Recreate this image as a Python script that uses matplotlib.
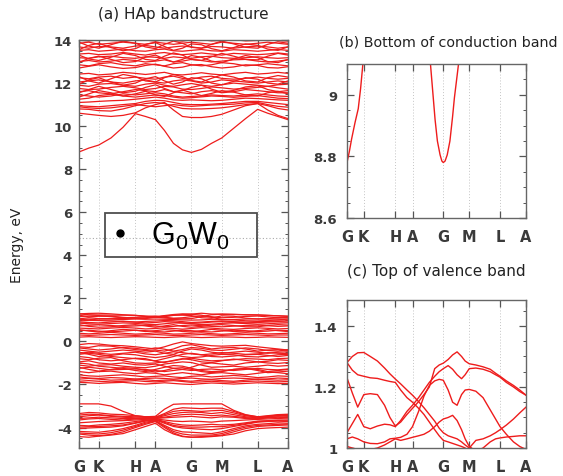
import matplotlib
matplotlib.use('Agg')
import matplotlib.pyplot as plt
from matplotlib.ticker import MultipleLocator, FuncFormatter
from matplotlib.lines import Line2D

plt.rcParams['font.family'] = ['DejaVu Sans']
plt.rcParams['mathtext.fontset'] = 'custom'
plt.rcParams['mathtext.rm'] = 'Liberation Sans'
plt.rcParams['mathtext.it'] = 'Liberation Sans'

# high-symmetry points along the path (fraction of path length)
sym_k = [0.0, 0.094, 0.270, 0.366, 0.538, 0.683, 0.855, 1.0]
sym_labels = ['G', 'K', 'H', 'A', 'G', 'M', 'L', 'A']

# k samples for panel (a)
k_main = [0.0, 0.047, 0.094, 0.153, 0.211, 0.270, 0.318, 0.366, 0.409, 0.452, 0.495,
          0.538, 0.586, 0.634, 0.683, 0.740, 0.797, 0.855, 0.903, 0.952, 1.0]

# conduction bands (eV)
cond_bands = [
    [8.80, 8.98, 9.12, 9.45, 9.95, 10.58, 10.45, 10.30, 9.80, 9.20, 8.90, 8.78, 8.92, 9.20, 9.45, 9.90, 10.35, 10.78, 10.60, 10.45, 10.30],
    [10.60, 10.55, 10.50, 10.45, 10.50, 10.62, 10.85, 11.00, 11.10, 10.75, 10.45, 10.40, 10.40, 10.45, 10.55, 10.75, 10.95, 11.05, 10.75, 10.50, 10.35],
    [10.80, 10.78, 10.72, 10.70, 10.80, 10.95, 11.05, 11.10, 11.05, 10.92, 10.82, 10.80, 10.80, 10.82, 10.85, 10.92, 11.00, 11.05, 10.95, 10.82, 10.75],
    [10.90, 10.85, 10.82, 10.85, 10.92, 11.00, 10.95, 10.90, 10.95, 11.00, 10.95, 10.92, 10.95, 10.98, 11.00, 11.02, 11.08, 11.10, 11.00, 10.92, 10.88],
    [10.95, 10.92, 10.90, 10.95, 11.00, 11.05, 11.15, 11.20, 11.18, 11.10, 11.02, 11.00, 11.00, 11.02, 11.05, 11.10, 11.15, 11.15, 11.10, 11.05, 11.00],
    [11.10, 11.12, 11.15, 11.18, 11.20, 11.25, 11.30, 11.35, 11.30, 11.22, 11.20, 11.22, 11.20, 11.18, 11.20, 11.25, 11.30, 11.28, 11.25, 11.22, 11.20],
    [11.25, 11.30, 11.42, 11.48, 11.40, 11.35, 11.40, 11.45, 11.42, 11.35, 11.30, 11.32, 11.36, 11.40, 11.38, 11.34, 11.38, 11.42, 11.36, 11.30, 11.28],
    [11.35, 11.50, 11.65, 11.55, 11.40, 11.50, 11.62, 11.45, 11.38, 11.55, 11.68, 11.55, 11.42, 11.52, 11.65, 11.58, 11.45, 11.40, 11.55, 11.62, 11.50],
    [11.45, 11.40, 11.35, 11.40, 11.50, 11.45, 11.50, 11.55, 11.50, 11.40, 11.35, 11.38, 11.40, 11.45, 11.42, 11.40, 11.45, 11.50, 11.45, 11.40, 11.38],
    [11.55, 11.70, 11.85, 11.70, 11.55, 11.62, 11.80, 11.92, 11.75, 11.60, 11.65, 11.80, 11.90, 11.72, 11.58, 11.66, 11.82, 11.88, 11.70, 11.60, 11.65],
    [11.60, 11.65, 11.55, 11.50, 11.60, 11.70, 11.65, 11.60, 11.70, 11.60, 11.55, 11.50, 11.60, 11.65, 11.55, 11.60, 11.70, 11.65, 11.60, 11.55, 11.55],
    [11.75, 11.70, 11.72, 11.80, 11.85, 11.78, 11.70, 11.75, 11.85, 11.82, 11.72, 11.70, 11.75, 11.82, 11.78, 11.72, 11.75, 11.80, 11.85, 11.78, 11.72],
    [11.90, 11.85, 11.95, 11.98, 11.90, 11.85, 11.95, 12.00, 11.90, 11.85, 11.92, 11.98, 11.90, 11.85, 11.92, 12.00, 11.95, 11.90, 11.85, 11.92, 11.95],
    [11.95, 12.15, 12.25, 12.05, 11.90, 12.00, 12.20, 12.30, 12.10, 11.95, 12.05, 12.25, 12.20, 12.00, 11.92, 12.08, 12.25, 12.18, 12.00, 11.95, 12.10],
    [12.05, 12.10, 12.15, 12.05, 12.00, 12.10, 12.15, 12.05, 12.00, 12.10, 12.15, 12.10, 12.00, 12.05, 12.15, 12.10, 12.05, 12.00, 12.05, 12.10, 12.05],
    [12.25, 12.20, 12.28, 12.32, 12.22, 12.28, 12.22, 12.18, 12.28, 12.32, 12.22, 12.18, 12.28, 12.32, 12.22, 12.18, 12.22, 12.28, 12.22, 12.18, 12.22],
    [12.30, 12.10, 12.00, 12.20, 12.40, 12.30, 12.10, 12.05, 12.25, 12.40, 12.30, 12.12, 12.05, 12.22, 12.38, 12.28, 12.10, 12.05, 12.25, 12.35, 12.28],
    [12.42, 12.45, 12.38, 12.42, 12.50, 12.45, 12.40, 12.45, 12.50, 12.40, 12.38, 12.42, 12.48, 12.42, 12.38, 12.45, 12.50, 12.42, 12.45, 12.50, 12.45],
    [12.70, 12.78, 12.85, 12.75, 12.68, 12.72, 12.82, 12.88, 12.78, 12.70, 12.74, 12.84, 12.86, 12.76, 12.70, 12.75, 12.85, 12.82, 12.72, 12.70, 12.76],
    [12.85, 12.80, 12.90, 12.95, 12.85, 12.80, 12.90, 12.85, 12.80, 12.90, 12.95, 12.85, 12.80, 12.85, 12.95, 12.90, 12.80, 12.85, 12.90, 12.85, 12.80],
    [12.95, 13.15, 13.25, 13.10, 12.95, 13.00, 13.20, 13.30, 13.12, 12.98, 13.10, 13.28, 13.20, 13.02, 12.95, 13.12, 13.28, 13.18, 13.00, 12.95, 13.10],
    [13.00, 13.05, 12.98, 13.02, 13.10, 13.05, 12.98, 13.02, 13.08, 12.98, 13.02, 13.10, 13.05, 12.98, 13.02, 13.08, 13.10, 13.02, 12.98, 13.02, 13.08],
    [13.18, 13.15, 13.22, 13.25, 13.18, 13.15, 13.22, 13.20, 13.15, 13.22, 13.18, 13.15, 13.22, 13.25, 13.18, 13.15, 13.18, 13.22, 13.18, 13.15, 13.18],
    [13.30, 13.12, 13.05, 13.20, 13.38, 13.28, 13.10, 13.05, 13.25, 13.40, 13.30, 13.10, 13.05, 13.22, 13.38, 13.25, 13.10, 13.08, 13.25, 13.38, 13.30],
    [13.35, 13.38, 13.32, 13.35, 13.42, 13.35, 13.30, 13.38, 13.42, 13.35, 13.32, 13.35, 13.40, 13.35, 13.30, 13.38, 13.35, 13.32, 13.35, 13.40, 13.35],
    [13.52, 13.55, 13.48, 13.52, 13.58, 13.50, 13.48, 13.55, 13.58, 13.50, 13.48, 13.52, 13.56, 13.50, 13.48, 13.55, 13.52, 13.48, 13.52, 13.56, 13.52],
    [13.55, 13.75, 13.85, 13.65, 13.50, 13.60, 13.80, 13.88, 13.70, 13.52, 13.62, 13.82, 13.78, 13.60, 13.50, 13.65, 13.82, 13.75, 13.58, 13.52, 13.68],
    [13.68, 13.62, 13.70, 13.68, 13.62, 13.72, 13.75, 13.68, 13.62, 13.68, 13.72, 13.68, 13.62, 13.70, 13.68, 13.62, 13.68, 13.72, 13.68, 13.62, 13.68],
    [13.85, 13.90, 13.80, 13.85, 13.90, 13.85, 13.80, 13.90, 13.85, 13.80, 13.85, 13.90, 13.85, 13.80, 13.90, 13.85, 13.80, 13.85, 13.90, 13.85, 13.80],
    [13.90, 13.72, 13.62, 13.78, 13.95, 13.85, 13.68, 13.60, 13.80, 13.95, 13.85, 13.66, 13.62, 13.80, 13.95, 13.82, 13.66, 13.62, 13.80, 13.92, 13.85],
    [14.00, 13.95, 14.02, 13.98, 13.95, 14.02, 14.00, 13.95, 14.02, 13.98, 13.95, 14.00, 14.02, 13.96, 13.98, 14.02, 13.96, 13.98, 14.02, 13.98, 13.95],
]

# upper valence group (eV)
val_top_bands = [
    [1.28, 1.30, 1.31, 1.28, 1.24, 1.21, 1.18, 1.15, 1.20, 1.25, 1.28, 1.27, 1.31, 1.27, 1.27, 1.26, 1.24, 1.23, 1.21, 1.19, 1.17],
    [1.28, 1.24, 1.23, 1.22, 1.22, 1.21, 1.16, 1.13, 1.09, 1.06, 1.05, 1.06, 1.15, 1.24, 1.26, 1.25, 1.24, 1.23, 1.21, 1.19, 1.17],
    [1.22, 1.14, 1.17, 1.17, 1.12, 1.08, 1.10, 1.13, 1.18, 1.22, 1.22, 1.20, 1.10, 1.08, 1.19, 1.17, 1.08, 1.04, 1.06, 1.10, 1.13],
    [1.15, 1.18, 1.20, 1.15, 1.10, 1.12, 1.15, 1.18, 1.12, 1.08, 1.10, 1.15, 1.18, 1.15, 1.10, 1.12, 1.16, 1.18, 1.14, 1.10, 1.12],
    [1.05, 1.10, 1.06, 1.06, 1.07, 1.08, 1.06, 1.13, 1.15, 1.21, 1.25, 1.26, 1.22, 1.12, 1.02, 1.00, 0.96, 0.95, 0.97, 1.00, 1.04],
    [1.02, 1.03, 1.00, 1.00, 1.02, 1.04, 1.03, 1.04, 1.03, 1.02, 1.00, 0.99, 1.00, 1.03, 1.01, 1.02, 1.04, 1.05, 1.04, 1.04, 1.04],
    [0.95, 0.98, 0.97, 0.95, 0.92, 0.90, 0.93, 0.95, 0.97, 0.96, 0.92, 0.88, 0.90, 0.93, 0.95, 0.92, 0.90, 0.92, 0.94, 0.95, 0.96],
    [0.90, 0.88, 0.86, 0.90, 0.94, 0.90, 0.86, 0.88, 0.92, 0.90, 0.86, 0.84, 0.86, 0.90, 0.92, 0.88, 0.86, 0.88, 0.90, 0.92, 0.90],
    [0.85, 0.82, 0.80, 0.83, 0.86, 0.84, 0.80, 0.78, 0.82, 0.86, 0.85, 0.82, 0.78, 0.80, 0.84, 0.86, 0.83, 0.80, 0.82, 0.85, 0.86],
    [0.78, 0.70, 0.66, 0.68, 0.74, 0.78, 0.72, 0.66, 0.72, 0.78, 0.70, 0.66, 0.70, 0.76, 0.78, 0.74, 0.68, 0.68, 0.74, 0.78, 0.76],
    [0.72, 0.75, 0.77, 0.74, 0.70, 0.72, 0.75, 0.72, 0.68, 0.70, 0.74, 0.76, 0.73, 0.70, 0.68, 0.71, 0.74, 0.76, 0.73, 0.70, 0.72],
    [0.62, 0.60, 0.58, 0.62, 0.65, 0.62, 0.58, 0.60, 0.63, 0.60, 0.57, 0.60, 0.64, 0.62, 0.58, 0.56, 0.60, 0.63, 0.61, 0.58, 0.60],
    [0.55, 0.48, 0.44, 0.50, 0.56, 0.52, 0.46, 0.50, 0.55, 0.52, 0.46, 0.44, 0.50, 0.56, 0.52, 0.46, 0.44, 0.50, 0.55, 0.50, 0.46],
    [0.50, 0.52, 0.48, 0.45, 0.48, 0.52, 0.50, 0.46, 0.44, 0.48, 0.52, 0.50, 0.46, 0.44, 0.48, 0.52, 0.50, 0.46, 0.48, 0.52, 0.50],
    [0.38, 0.35, 0.38, 0.42, 0.38, 0.34, 0.36, 0.40, 0.38, 0.34, 0.35, 0.38, 0.40, 0.36, 0.33, 0.36, 0.40, 0.38, 0.35, 0.36, 0.38],
    [0.30, 0.28, 0.30, 0.32, 0.30, 0.28, 0.30, 0.32, 0.30, 0.28, 0.28, 0.30, 0.32, 0.30, 0.28, 0.30, 0.32, 0.30, 0.28, 0.30, 0.30],
    [0.20, 0.22, 0.20, 0.18, 0.20, 0.22, 0.21, 0.19, 0.18, 0.20, 0.22, 0.20, 0.18, 0.19, 0.21, 0.20, 0.18, 0.19, 0.21, 0.20, 0.19],
]

# middle valence group (eV)
val_mid_bands = [
    [-0.15, -0.10, -0.12, -0.18, -0.20, -0.25, -0.30, -0.35, -0.25, -0.12, -0.02, -0.10, -0.15, -0.20, -0.22, -0.20, -0.18, -0.25, -0.30, -0.35, -0.40],
    [-0.25, -0.28, -0.20, -0.22, -0.30, -0.38, -0.42, -0.40, -0.45, -0.35, -0.20, -0.15, -0.25, -0.35, -0.30, -0.28, -0.35, -0.45, -0.40, -0.38, -0.42],
    [-0.30, -0.35, -0.40, -0.35, -0.28, -0.32, -0.38, -0.30, -0.36, -0.45, -0.38, -0.28, -0.32, -0.40, -0.42, -0.36, -0.30, -0.35, -0.42, -0.45, -0.38],
    [-0.40, -0.45, -0.50, -0.45, -0.40, -0.45, -0.50, -0.45, -0.55, -0.60, -0.45, -0.35, -0.40, -0.50, -0.55, -0.50, -0.45, -0.50, -0.55, -0.50, -0.48],
    [-0.50, -0.60, -0.70, -0.65, -0.58, -0.62, -0.70, -0.75, -0.70, -0.62, -0.70, -0.75, -0.72, -0.65, -0.60, -0.62, -0.70, -0.72, -0.68, -0.62, -0.60],
    [-0.55, -0.50, -0.55, -0.60, -0.55, -0.50, -0.58, -0.62, -0.55, -0.48, -0.52, -0.58, -0.62, -0.58, -0.52, -0.55, -0.60, -0.58, -0.52, -0.55, -0.56],
    [-0.60, -0.55, -0.60, -0.70, -0.75, -0.80, -0.85, -0.90, -0.80, -0.70, -0.60, -0.55, -0.62, -0.70, -0.72, -0.68, -0.62, -0.60, -0.65, -0.70, -0.65],
    [-0.70, -0.75, -0.85, -0.90, -0.85, -0.78, -0.80, -0.92, -0.98, -0.88, -0.80, -0.85, -0.95, -0.98, -0.90, -0.82, -0.88, -0.95, -0.92, -0.85, -0.88],
    [-0.80, -0.85, -0.78, -0.75, -0.90, -1.00, -1.02, -1.00, -0.95, -0.90, -0.82, -0.78, -0.85, -0.90, -0.88, -0.85, -0.80, -0.82, -0.85, -0.80, -0.78],
    [-0.95, -0.90, -1.00, -1.05, -1.00, -1.08, -1.10, -1.05, -1.15, -1.25, -1.30, -1.20, -1.05, -1.00, -1.05, -1.10, -1.00, -0.95, -1.00, -1.02, -0.98],
    [-1.00, -1.05, -1.15, -1.20, -1.25, -1.35, -1.40, -1.30, -1.20, -1.12, -1.15, -1.25, -1.35, -1.40, -1.38, -1.30, -1.25, -1.30, -1.40, -1.35, -1.30],
    [-1.10, -1.15, -1.10, -1.08, -1.15, -1.20, -1.22, -1.15, -1.05, -1.00, -0.95, -0.98, -1.10, -1.20, -1.18, -1.15, -1.20, -1.15, -1.10, -1.15, -1.12],
    [-1.20, -1.30, -1.38, -1.30, -1.22, -1.25, -1.35, -1.42, -1.35, -1.25, -1.22, -1.30, -1.40, -1.45, -1.40, -1.30, -1.25, -1.35, -1.45, -1.42, -1.38],
    [-1.25, -1.20, -1.25, -1.32, -1.30, -1.28, -1.30, -1.35, -1.40, -1.35, -1.30, -1.35, -1.30, -1.28, -1.32, -1.35, -1.30, -1.25, -1.30, -1.32, -1.28],
    [-1.40, -1.45, -1.40, -1.38, -1.45, -1.50, -1.45, -1.48, -1.55, -1.50, -1.45, -1.50, -1.55, -1.48, -1.45, -1.50, -1.55, -1.48, -1.42, -1.45, -1.50],
    [-1.55, -1.60, -1.62, -1.58, -1.55, -1.60, -1.65, -1.62, -1.60, -1.65, -1.68, -1.62, -1.60, -1.65, -1.62, -1.58, -1.62, -1.68, -1.65, -1.60, -1.62],
    [-1.65, -1.70, -1.72, -1.68, -1.70, -1.75, -1.72, -1.70, -1.72, -1.75, -1.72, -1.70, -1.74, -1.76, -1.72, -1.70, -1.72, -1.76, -1.74, -1.70, -1.72],
    [-1.75, -1.72, -1.75, -1.80, -1.78, -1.75, -1.78, -1.82, -1.80, -1.78, -1.82, -1.85, -1.80, -1.78, -1.82, -1.85, -1.80, -1.75, -1.78, -1.80, -1.78],
    [-1.85, -1.82, -1.85, -1.88, -1.85, -1.82, -1.86, -1.88, -1.85, -1.82, -1.86, -1.90, -1.88, -1.85, -1.88, -1.90, -1.86, -1.84, -1.86, -1.88, -1.86],
    [-1.90, -1.92, -1.95, -1.92, -1.90, -1.95, -1.98, -1.95, -1.92, -1.95, -1.98, -2.00, -1.96, -1.93, -1.95, -1.98, -1.95, -1.92, -1.94, -1.96, -1.95],
]

# lower valence group (eV)
val_low_bands = [
    [-2.90, -2.90, -2.90, -3.00, -3.25, -3.45, -3.50, -3.48, -3.15, -2.92, -2.90, -2.90, -2.90, -2.90, -2.90, -3.20, -3.40, -3.50, -3.48, -3.42, -3.40],
    [-3.35, -3.30, -3.32, -3.38, -3.40, -3.45, -3.50, -3.52, -3.35, -3.15, -3.08, -3.10, -3.12, -3.10, -3.10, -3.25, -3.42, -3.50, -3.45, -3.40, -3.38],
    [-3.42, -3.38, -3.40, -3.45, -3.48, -3.50, -3.52, -3.52, -3.40, -3.25, -3.20, -3.22, -3.25, -3.22, -3.20, -3.32, -3.45, -3.52, -3.48, -3.44, -3.44],
    [-3.50, -3.45, -3.42, -3.48, -3.52, -3.55, -3.55, -3.55, -3.45, -3.35, -3.30, -3.28, -3.30, -3.35, -3.30, -3.40, -3.50, -3.55, -3.50, -3.45, -3.48],
    [-3.58, -3.55, -3.52, -3.55, -3.58, -3.58, -3.57, -3.56, -3.52, -3.45, -3.40, -3.38, -3.40, -3.45, -3.42, -3.48, -3.54, -3.58, -3.53, -3.50, -3.52],
    [-3.65, -3.60, -3.58, -3.62, -3.65, -3.60, -3.58, -3.58, -3.55, -3.52, -3.50, -3.48, -3.52, -3.55, -3.50, -3.52, -3.58, -3.60, -3.55, -3.52, -3.55],
    [-3.78, -3.75, -3.72, -3.70, -3.68, -3.65, -3.62, -3.60, -3.65, -3.70, -3.72, -3.70, -3.72, -3.75, -3.70, -3.68, -3.65, -3.62, -3.60, -3.58, -3.60],
    [-3.90, -3.92, -3.88, -3.85, -3.80, -3.72, -3.66, -3.62, -3.72, -3.82, -3.88, -3.90, -3.88, -3.85, -3.88, -3.85, -3.78, -3.70, -3.68, -3.65, -3.66],
    [-3.98, -3.96, -3.95, -3.92, -3.88, -3.78, -3.68, -3.63, -3.76, -3.90, -3.96, -3.98, -3.98, -3.96, -3.96, -3.90, -3.82, -3.72, -3.70, -3.68, -3.70],
    [-4.05, -4.02, -4.00, -3.98, -3.92, -3.80, -3.70, -3.65, -3.80, -3.95, -4.02, -4.05, -4.08, -4.10, -4.05, -3.95, -3.85, -3.75, -3.72, -3.70, -3.72],
    [-4.18, -4.20, -4.22, -4.15, -4.05, -3.90, -3.75, -3.68, -3.90, -4.10, -4.20, -4.22, -4.25, -4.28, -4.20, -4.05, -3.92, -3.85, -3.82, -3.78, -3.80],
    [-4.25, -4.28, -4.30, -4.24, -4.12, -3.95, -3.80, -3.70, -3.95, -4.18, -4.30, -4.35, -4.35, -4.35, -4.28, -4.12, -3.98, -3.90, -3.88, -3.85, -3.84],
    [-4.30, -4.35, -4.38, -4.32, -4.20, -4.00, -3.85, -3.72, -4.00, -4.25, -4.40, -4.45, -4.42, -4.40, -4.35, -4.20, -4.05, -3.95, -3.92, -3.90, -3.88],
    [-4.42, -4.45, -4.40, -4.35, -4.28, -4.10, -3.95, -3.80, -4.10, -4.30, -4.42, -4.45, -4.45, -4.42, -4.38, -4.30, -4.15, -4.05, -4.02, -4.00, -3.98],
]

# panel (b): bottom of the conduction band
cbm_k_left = [0.0, 0.013, 0.026, 0.045, 0.063, 0.076, 0.088, 0.10]
cbm_e_left = [8.78, 8.815, 8.857, 8.91, 8.955, 9.02, 9.095, 9.17]
cbm_k_mid = [0.455, 0.467, 0.482, 0.492, 0.505, 0.52, 0.53, 0.538, 0.548, 0.56, 0.575, 0.59, 0.60, 0.622, 0.635]
cbm_e_mid = [9.17, 9.095, 8.99, 8.92, 8.85, 8.805, 8.785, 8.78, 8.785, 8.805, 8.85, 8.93, 8.99, 9.095, 9.17]

# panel (c): top of the valence band
k_vbm = [0.0, 0.03, 0.06, 0.094, 0.13, 0.17, 0.21, 0.24, 0.27, 0.30, 0.335, 0.366, 0.40, 0.43, 0.46, 0.49,
         0.515, 0.538, 0.565, 0.59, 0.615, 0.64, 0.66, 0.683, 0.72, 0.76, 0.80, 0.83, 0.855, 0.89, 0.93, 0.965, 1.0]
vbm_bands = [
    [1.280, 1.300, 1.312, 1.313, 1.300, 1.285, 1.262, 1.243, 1.226, 1.210, 1.190, 1.173, 1.152, 1.132, 1.110, 1.088, 1.065,
     1.050, 1.040, 1.035, 1.030, 1.020, 1.010, 1.000, 1.025, 1.030, 1.040, 1.050, 1.060, 1.075, 1.095, 1.115, 1.134],
    [1.280, 1.255, 1.240, 1.235, 1.230, 1.228, 1.222, 1.218, 1.215, 1.190, 1.165, 1.150, 1.130, 1.110, 1.085, 1.060, 1.040,
     1.025, 1.020, 1.015, 1.010, 1.005, 1.000, 0.990, 0.990, 1.000, 1.020, 1.030, 1.033, 1.036, 1.038, 1.040, 1.040],
    [1.230, 1.180, 1.134, 1.175, 1.178, 1.175, 1.140, 1.100, 1.072, 1.085, 1.110, 1.130, 1.152, 1.175, 1.200, 1.260, 1.272,
     1.278, 1.290, 1.305, 1.315, 1.300, 1.285, 1.276, 1.272, 1.266, 1.258, 1.245, 1.235, 1.220, 1.205, 1.190, 1.173],
    [1.050, 1.080, 1.110, 1.070, 1.063, 1.072, 1.078, 1.076, 1.070, 1.090, 1.120, 1.140, 1.165, 1.190, 1.215, 1.235, 1.250,
     1.260, 1.270, 1.258, 1.240, 1.227, 1.240, 1.260, 1.262, 1.258, 1.250, 1.240, 1.232, 1.215, 1.200, 1.185, 1.173],
    [1.030, 1.036, 1.030, 1.020, 1.015, 1.014, 1.020, 1.030, 1.032, 1.035, 1.045, 1.070, 1.120, 1.170, 1.205, 1.220, 1.225,
     1.222, 1.190, 1.150, 1.140, 1.175, 1.190, 1.192, 1.186, 1.165, 1.125, 1.095, 1.070, 1.045, 1.020, 1.005, 0.995],
    [1.005, 1.000, 0.995, 0.990, 0.995, 1.000, 1.010, 1.020, 1.030, 1.025, 1.030, 1.035, 1.040, 1.045, 1.055, 1.070, 1.085,
     1.095, 1.100, 1.107, 1.090, 1.060, 1.030, 1.005, 0.990, 0.980, 0.980, 0.985, 0.990, 0.990, 0.990, 0.985, 0.980],
]

red = '#ee1c1c'
tick_color = '#555555'
text_color = '#3a3a3a'


def style_axes(ax, ymajor, yminor, ypad):
    ax.set_xlim(0, 1)
    ax.set_xticks(sym_k)
    ax.set_xticklabels(sym_labels)
    for k in sym_k[1:-1]:
        ax.axvline(k, color='#c4c4c4', lw=0.7, ls=(0, (1, 2)), zorder=0)
    ax.yaxis.set_major_locator(MultipleLocator(ymajor))
    ax.yaxis.set_minor_locator(MultipleLocator(yminor))
    ax.yaxis.set_major_formatter(FuncFormatter(lambda v, p: '%g' % round(v, 3)))
    ax.tick_params(which='both', direction='in', top=True, right=True, color=tick_color)
    ax.tick_params(which='major', length=5, width=0.9)
    ax.tick_params(which='minor', length=2.5, width=0.7)
    ax.tick_params(axis='x', pad=8, labelsize=10.5, labelcolor=text_color)
    ax.tick_params(axis='y', pad=ypad, labelsize=9.5, labelcolor=text_color)
    for lab in ax.get_xticklabels() + ax.get_yticklabels():
        lab.set_fontweight('bold')
    for s in ax.spines.values():
        s.set_color('#666666')
        s.set_linewidth(1.0)


fig = plt.figure(figsize=(5.63, 4.77), dpi=100)
ax_a = fig.add_axes([0.1403, 0.0587, 0.3712, 0.8553])
ax_b = fig.add_axes([0.6163, 0.5409, 0.318, 0.3228])
ax_c = fig.add_axes([0.6163, 0.0587, 0.318, 0.3103])

# (a) full band structure
for group in (cond_bands, val_top_bands, val_mid_bands, val_low_bands):
    for band in group:
        ax_a.plot(k_main, band, color=red, lw=0.9)
ax_a.axhline(4.8, color='#aaaaaa', lw=0.8, ls=(0, (1, 2)), zorder=0)
ax_a.set_ylim(-4.95, 14)
style_axes(ax_a, 2, 0.5, 5)
ax_a.text(0.5, 1.064, '(a) HAp bandstructure', transform=ax_a.transAxes,
          ha='center', va='center', fontsize=11, color='#222222')
fig.text(0.031, 0.486, 'Energy, eV', rotation=90, ha='center', va='center',
         fontsize=10, color='#222222')

handle = Line2D([], [], marker='o', color='k', ls='none', ms=5)
leg = ax_a.legend([handle], [r'G$_0$W$_0$'], loc='center left',
                  bbox_to_anchor=(0.124, 0.463, 0.728, 0.118), mode='expand',
                  prop={'family': 'Liberation Sans', 'size': 22},
                  frameon=True, fancybox=False, handlelength=0.6, handletextpad=0.7,
                  borderpad=0.2, borderaxespad=0)
leg.get_frame().set_edgecolor('#222222')
leg.get_frame().set_linewidth(1.3)
leg.get_frame().set_facecolor('none')

# (b) bottom of conduction band
ax_b.plot(cbm_k_left, cbm_e_left, color=red, lw=1.0)
ax_b.plot(cbm_k_mid, cbm_e_mid, color=red, lw=1.0)
ax_b.set_ylim(8.6, 9.1)
style_axes(ax_b, 0.2, 0.05, 7)
ax_b.text(-0.045, 1.143, '(b) Bottom of conduction band', transform=ax_b.transAxes,
          ha='left', va='center', fontsize=10.3, color='#222222')

# (c) top of valence band
for band in vbm_bands:
    ax_c.plot(k_vbm, band, color=red, lw=1.0)
ax_c.set_ylim(1.0, 1.485)
style_axes(ax_c, 0.2, 0.05, 7)
ax_c.text(0.497, 1.196, '(c) Top of valence band', transform=ax_c.transAxes,
          ha='center', va='center', fontsize=11, color='#222222')

fig.savefig('out.png', dpi=100)
